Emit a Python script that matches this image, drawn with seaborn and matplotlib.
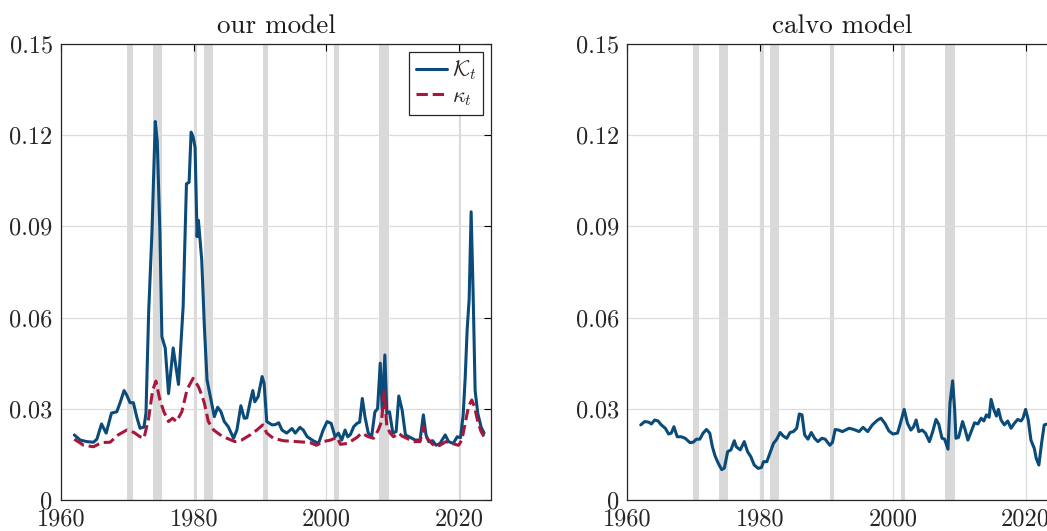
import numpy as np
import matplotlib
matplotlib.use("Agg")
import matplotlib.pyplot as plt
import pandas as pd
import seaborn as sns

# our model: K_t (blue) and kappa_t (red)
K_years = [1962.0, 1962.9, 1963.9, 1964.9, 1965.4, 1966.1, 1966.8, 1967.6, 1968.4, 1968.9,
           1969.5, 1969.9, 1970.4, 1970.9, 1971.4, 1971.9, 1972.5, 1972.8, 1973.2, 1973.7,
           1974.2, 1974.5, 1974.9, 1975.2, 1975.7, 1976.2, 1976.9, 1977.7, 1978.4, 1978.9,
           1979.3, 1979.6, 1979.9, 1980.2, 1980.5, 1980.7, 1981.2, 1981.6, 1982.0, 1982.5,
           1983.1, 1983.6, 1984.1, 1984.6, 1985.2, 1986.0, 1986.5, 1987.1, 1987.6, 1988.0,
           1988.5, 1988.9, 1989.2, 1989.7, 1990.3, 1990.6, 1991.0, 1991.8, 1992.3, 1992.8,
           1993.3, 1994.0, 1994.8, 1995.3, 1996.0, 1996.5, 1997.1, 1998.0, 1998.8, 1999.5,
           2000.1, 2000.7, 2001.3, 2001.8, 2002.3, 2002.8, 2003.2, 2003.6, 2004.1, 2004.6,
           2005.0, 2005.4, 2005.8, 2006.3, 2006.8, 2007.3, 2007.7, 2008.1, 2008.4, 2008.8,
           2009.1, 2009.5, 2010.0, 2010.5, 2010.9, 2011.4, 2011.9, 2012.6, 2013.4, 2014.1,
           2014.6, 2015.0, 2015.4, 2016.0, 2016.5, 2017.1, 2017.9, 2018.4, 2019.1, 2019.7,
           2020.2, 2020.6, 2020.9, 2021.2, 2021.5, 2021.8, 2022.1, 2022.4, 2022.8, 2023.3,
           2023.75]
K_vals = [0.0214, 0.0197, 0.0192, 0.0190, 0.0200, 0.0250, 0.0220, 0.0286, 0.0290, 0.0320,
          0.0360, 0.0345, 0.0320, 0.0320, 0.0274, 0.0236, 0.0240, 0.0286, 0.0615, 0.0880,
          0.1245, 0.1180, 0.0880, 0.0537, 0.0500, 0.0350, 0.0500, 0.0380, 0.0636, 0.1040,
          0.1045, 0.1210, 0.1195, 0.1160, 0.0866, 0.0920, 0.0790, 0.0570, 0.0395, 0.0340,
          0.0274, 0.0305, 0.0290, 0.0258, 0.0241, 0.0203, 0.0230, 0.0310, 0.0269, 0.0270,
          0.0323, 0.0360, 0.0323, 0.0340, 0.0406, 0.0384, 0.0258, 0.0247, 0.0248, 0.0254,
          0.0230, 0.0220, 0.0235, 0.0220, 0.0239, 0.0230, 0.0208, 0.0195, 0.0186, 0.0230,
          0.0258, 0.0252, 0.0208, 0.0220, 0.0197, 0.0230, 0.0208, 0.0215, 0.0241, 0.0252,
          0.0256, 0.0334, 0.0274, 0.0220, 0.0208, 0.0290, 0.0300, 0.0450, 0.0296, 0.0477,
          0.0285, 0.0290, 0.0220, 0.0225, 0.0342, 0.0296, 0.0214, 0.0206, 0.0197, 0.0197,
          0.0280, 0.0214, 0.0192, 0.0195, 0.0180, 0.0186, 0.0214, 0.0192, 0.0186, 0.0208,
          0.0205, 0.0280, 0.0400, 0.0560, 0.0660, 0.0948, 0.0680, 0.0360, 0.0285, 0.0240,
          0.0220]

kap_years = [1962.0, 1963.4, 1964.9, 1966.1, 1967.4, 1968.6, 1969.9, 1971.0, 1971.9, 1972.5,
             1973.2, 1973.8, 1974.3, 1974.9, 1975.5, 1976.2, 1976.8, 1977.4, 1978.2, 1979.0,
             1979.9, 1980.7, 1981.3, 1981.6, 1982.2, 1983.0, 1984.0, 1985.0, 1986.2, 1987.2,
             1988.5, 1989.5, 1990.4, 1991.0, 1992.0, 1993.5, 1995.5, 1997.5, 1998.5, 1999.5,
             2000.6, 2001.6, 2002.1, 2003.1, 2003.6, 2004.6, 2005.3, 2006.3, 2007.1, 2007.8,
             2008.3, 2008.7, 2009.1, 2009.6, 2010.1, 2010.9, 2011.4, 2012.1, 2013.1, 2014.1,
             2014.6, 2015.0, 2015.6, 2016.4, 2017.1, 2018.0, 2018.9, 2019.9, 2020.4, 2020.9,
             2021.4, 2021.9, 2022.3, 2022.8, 2023.3, 2023.75]
kap_vals = [0.0200, 0.0180, 0.0175, 0.0189, 0.0190, 0.0214, 0.0230, 0.0222, 0.0208, 0.0203,
            0.0269, 0.0360, 0.0391, 0.0329, 0.0290, 0.0258, 0.0269, 0.0258, 0.0290, 0.0364,
            0.0400, 0.0373, 0.0340, 0.0318, 0.0258, 0.0230, 0.0214, 0.0203, 0.0192, 0.0197,
            0.0214, 0.0230, 0.0247, 0.0220, 0.0203, 0.0195, 0.0192, 0.0189, 0.0180, 0.0192,
            0.0197, 0.0206, 0.0183, 0.0186, 0.0192, 0.0206, 0.0220, 0.0208, 0.0203, 0.0230,
            0.0258, 0.0356, 0.0241, 0.0220, 0.0208, 0.0220, 0.0210, 0.0203, 0.0192, 0.0192,
            0.0241, 0.0208, 0.0192, 0.0175, 0.0180, 0.0192, 0.0186, 0.0180, 0.0197, 0.0252,
            0.0307, 0.0329, 0.0307, 0.0258, 0.0225, 0.0208]

# calvo model
calvo_years = [1962.0, 1962.6, 1963.2, 1963.6, 1964.1, 1964.6, 1965.1, 1965.7, 1966.2, 1966.6,
               1967.0, 1967.5, 1968.1, 1968.7, 1969.4, 1969.9, 1970.4, 1970.9, 1971.4, 1971.9,
               1972.4, 1972.8, 1973.2, 1973.7, 1974.2, 1974.6, 1975.1, 1975.6, 1976.1, 1976.4,
               1977.0, 1977.6, 1978.1, 1978.6, 1979.1, 1979.7, 1980.2, 1980.5, 1981.0, 1981.5,
               1982.0, 1982.5, 1983.0, 1983.5, 1984.0, 1984.5, 1985.0, 1985.5, 1985.9, 1986.3,
               1986.7, 1987.2, 1987.7, 1988.2, 1988.7, 1989.3, 1989.8, 1990.5, 1990.9, 1991.3,
               1991.8, 1992.4, 1993.4, 1994.1, 1994.9, 1995.5, 1996.2, 1996.9, 1997.7, 1998.2,
               1998.8, 1999.4, 2000.0, 2000.7, 2001.2, 2001.7, 2002.2, 2002.7, 2003.1, 2003.5,
               2003.9, 2004.4, 2004.9, 2005.5, 2006.0, 2006.5, 2006.9, 2007.4, 2007.8, 2008.3,
               2008.6, 2009.0, 2009.3, 2009.5, 2009.9, 2010.5, 2010.9, 2011.3, 2011.8, 2012.3,
               2012.8, 2013.3, 2013.7, 2014.1, 2014.5, 2014.8, 2015.2, 2015.6, 2015.9, 2016.3,
               2016.8, 2017.3, 2017.8, 2018.3, 2018.8, 2019.3, 2019.6, 2020.0, 2020.4, 2020.8,
               2021.3, 2021.6, 2022.0, 2022.4, 2022.8, 2023.3, 2023.75]
calvo_vals = [0.0247, 0.0258, 0.0256, 0.0250, 0.0263, 0.0260, 0.0247, 0.0236, 0.0217, 0.0220,
              0.0241, 0.0208, 0.0208, 0.0203, 0.0189, 0.0190, 0.0200, 0.0200, 0.0220, 0.0232,
              0.0220, 0.0175, 0.0145, 0.0120, 0.0100, 0.0105, 0.0159, 0.0165, 0.0195, 0.0175,
              0.0165, 0.0192, 0.0159, 0.0142, 0.0115, 0.0104, 0.0107, 0.0126, 0.0126, 0.0156,
              0.0186, 0.0200, 0.0222, 0.0210, 0.0203, 0.0222, 0.0225, 0.0236, 0.0283, 0.0280,
              0.0214, 0.0200, 0.0222, 0.0203, 0.0192, 0.0203, 0.0200, 0.0180, 0.0190, 0.0232,
              0.0230, 0.0225, 0.0236, 0.0232, 0.0225, 0.0239, 0.0225, 0.0247, 0.0263, 0.0269,
              0.0252, 0.0227, 0.0217, 0.0220, 0.0258, 0.0298, 0.0252, 0.0230, 0.0240, 0.0263,
              0.0225, 0.0230, 0.0220, 0.0192, 0.0225, 0.0265, 0.0250, 0.0203, 0.0200, 0.0167,
              0.0318, 0.0392, 0.0300, 0.0203, 0.0206, 0.0258, 0.0230, 0.0197, 0.0225, 0.0254,
              0.0250, 0.0269, 0.0260, 0.0280, 0.0272, 0.0331, 0.0298, 0.0276, 0.0298, 0.0263,
              0.0247, 0.0260, 0.0236, 0.0252, 0.0265, 0.0260, 0.0269, 0.0298, 0.0263, 0.0197,
              0.0170, 0.0137, 0.0115, 0.0186, 0.0247, 0.0250, 0.0248]

# NBER recessions (start, end)
rec_start = [1969.92, 1973.83, 1980.0, 1981.5, 1990.5, 2001.17, 2007.92, 2020.08]
rec_end = [1970.83, 1975.17, 1980.5, 1982.83, 1991.17, 2001.83, 2009.42, 2020.25]

y_ticks = [0, 0.03, 0.06, 0.09, 0.12, 0.15]
y_labels = ["0", "0.03", "0.06", "0.09", "0.12", "0.15"]
x_ticks = [1960, 1980, 2000, 2020]
x_labels = ["1960", "1980", "2000", "2020"]

blue = "#0b4b7a"
red = "#a8173b"

sns.set_theme(style="white")
plt.rcParams["font.family"] = ["cmr10", "DejaVu Serif"]
plt.rcParams["mathtext.fontset"] = "cm"
plt.rcParams["axes.formatter.use_mathtext"] = True

fig = plt.figure(figsize=(10.47, 5.31), dpi=100)
ax1 = fig.add_axes([0.0583, 0.0584, 0.4107, 0.8588])
ax2 = fig.add_axes([0.5993, 0.0584, 0.4107, 0.8588])

df_k = pd.DataFrame({"year": K_years, "val": K_vals})
df_kap = pd.DataFrame({"year": kap_years, "val": kap_vals})
df_c = pd.DataFrame({"year": calvo_years, "val": calvo_vals})

for ax in (ax1, ax2):
    for s, e in zip(rec_start, rec_end):
        ax.axvspan(s, e, color="#d9d9d9", lw=0, zorder=0.5)

sns.lineplot(data=df_k, x="year", y="val", ax=ax1, color=blue, lw=2.2,
             label=r"$\mathcal{K}_t$", zorder=3)
sns.lineplot(data=df_kap, x="year", y="val", ax=ax1, color=red, lw=2.2,
             linestyle="--", label=r"$\kappa_t$", zorder=3)
sns.lineplot(data=df_c, x="year", y="val", ax=ax2, color=blue, lw=2.2, zorder=3)

for ax, title in ((ax1, "our model"), (ax2, "calvo model")):
    ax.set_xlim(1960, 2024.8)
    ax.set_ylim(0, 0.15)
    ax.set_xticks(x_ticks)
    ax.set_xticklabels(x_labels)
    ax.set_yticks(y_ticks)
    ax.set_yticklabels(y_labels)
    ax.set_xlabel("")
    ax.set_ylabel("")
    ax.set_title(title, fontsize=19.5, pad=8, color="#1a1a1a")
    ax.grid(True, color="#dcdcdc", lw=0.9)
    ax.set_axisbelow(True)
    ax.tick_params(direction="in", top=True, right=True, length=5, width=0.8,
                   colors="black", labelsize=17.5, labelcolor="#262626")
    ax.tick_params(axis="y", pad=6)
    ax.tick_params(axis="x", pad=6)
    for sp in ax.spines.values():
        sp.set_color("#262626")
        sp.set_linewidth(0.9)

leg = ax1.legend(loc="upper right", fontsize=16, handlelength=1.4, handletextpad=0.2,
                 borderpad=0.3, labelspacing=0.2, borderaxespad=0.35, fancybox=False,
                 framealpha=1, edgecolor="#262626")
leg.get_frame().set_linewidth(0.9)

fig.savefig("out.png", dpi=100)
